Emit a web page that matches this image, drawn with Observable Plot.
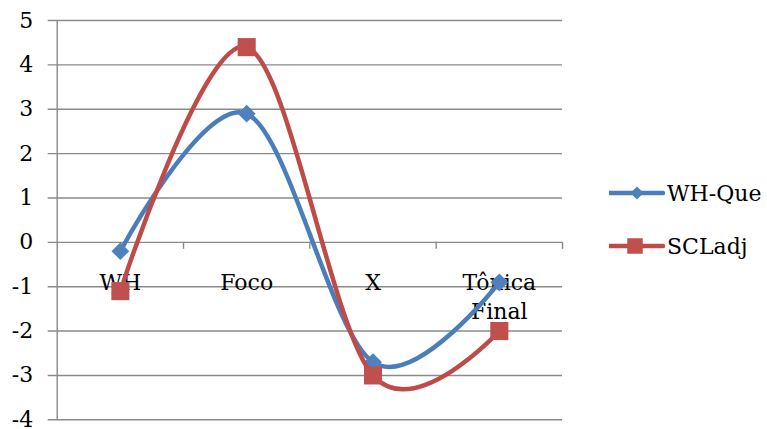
<!DOCTYPE html>
<html>
<head>
<meta charset="utf-8">
<script src="https://cdn.jsdelivr.net/npm/d3@7"></script>
<script src="https://cdn.jsdelivr.net/npm/@observablehq/plot@0.6"></script>
<style>
  body { margin: 0; background: #fff; }
  #chart { position: relative; width: 767px; height: 429px; font-family: "DejaVu Serif", serif; }
  #chart svg { display: block; }
  .legend-item { position: absolute; left: 609px; height: 30px; display: flex; align-items: center;
                 white-space: nowrap; font-size: 22px; color: #000; font-family: "DejaVu Serif", serif; }
  .legend-item svg { margin-right: 2px; }
</style>
</head>
<body>
<div id="chart"></div>
<script>
// Categories along the horizontal axis
const categories = ["WH", "Foco", "X", "Tônica\nFinal"];
// Series values, one per category
const whQue = [-0.2, 2.9, -2.7, -0.9];
const scladj = [-1.1, 4.4, -3.0, -2.0];
// Vertical axis ticks
const yTicks = [-4, -3, -2, -1, 0, 1, 2, 3, 4, 5];
// Series names and colours
const seriesNames = ["WH-Que", "SCLadj"];
const lineColors = ["#4A7EBB", "#BE4B48"];
const markerColors = ["#4F81BD", "#C0504D"];
const markerSymbols = ["diamond2", "square"];

const W = 767, H = 429;
const marginLeft = 56.7, marginRight = 205, marginTop = 20, marginBottom = 9.7;
const gridColor = "#8a8a8a";

const idx = categories.map((_, i) => i);
const rows = (vals) => vals.map((v, i) => ({i, v}));
const seriesRows = [rows(whQue), rows(scladj)];
// band boundaries between categories
const boundaries = d3.range(categories.length + 1).map(i => i - 0.5);
const pxPerUnit = (H - marginTop - marginBottom) / (d3.max(yTicks) - d3.min(yTicks));
const tickLen = 7 / pxPerUnit;

const marks = [
  Plot.ruleY(yTicks, {stroke: gridColor, strokeWidth: 1.4, insetLeft: -9}),
  Plot.ruleX(boundaries.slice(0, 1), {stroke: gridColor, strokeWidth: 1.4}),
  Plot.ruleX(boundaries.slice(1), {x: d => d, y1: 0, y2: -tickLen, stroke: gridColor, strokeWidth: 1.4}),
  Plot.axisY({ticks: yTicks, tickSize: 0, tickPadding: 24, fontSize: 22, tickFormat: d => d,
              fill: "#000", label: null}),
  Plot.text(idx, {x: d => d, y: 0, text: d => categories[d], lineAnchor: "top", dy: 26,
                  fontSize: 22, lineHeight: 1.36, fill: "#000"})
];

seriesRows.forEach((data, s) => {
  marks.push(Plot.line(data, {x: "i", y: "v", curve: "cardinal", stroke: lineColors[s], strokeWidth: 4.5}));
  marks.push(Plot.dot(data, {x: "i", y: "v", symbol: markerSymbols[s], r: s === 0 ? 8 : 10.2,
                             fill: markerColors[s], stroke: "none"}));
});

const chart = Plot.plot({
  width: W, height: H,
  marginLeft, marginRight, marginTop, marginBottom,
  style: {fontFamily: "DejaVu Serif, serif", fontSize: "22px", background: "#fff"},
  x: {type: "linear", domain: [-0.5, categories.length - 0.5], axis: null},
  y: {domain: [d3.min(yTicks), d3.max(yTicks)], axis: null, label: null},
  marks
});

const root = document.getElementById("chart");
root.appendChild(chart);

// Legend on the right
const legendCenters = [193, 246];
seriesNames.forEach((name, s) => {
  const item = document.createElement("div");
  item.className = "legend-item";
  item.style.top = (legendCenters[s] - 15) + "px";
  const sw = d3.create("svg").attr("width", 56).attr("height", 30);
  sw.append("line").attr("x1", 0).attr("x2", 54).attr("y1", 15).attr("y2", 15)
    .attr("stroke", lineColors[s]).attr("stroke-width", 4.5).attr("stroke-linecap", "round");
  const sym = s === 0 ? d3.symbol(d3.symbolDiamond2, 110) : d3.symbol(d3.symbolSquare, 240);
  sw.append("path").attr("d", sym()).attr("transform", `translate(${s === 0 ? 28 : 26},15)`)
    .attr("fill", markerColors[s]);
  item.appendChild(sw.node());
  const label = document.createElement("span");
  label.textContent = name;
  item.appendChild(label);
  root.appendChild(item);
});
</script>
</body>
</html>
